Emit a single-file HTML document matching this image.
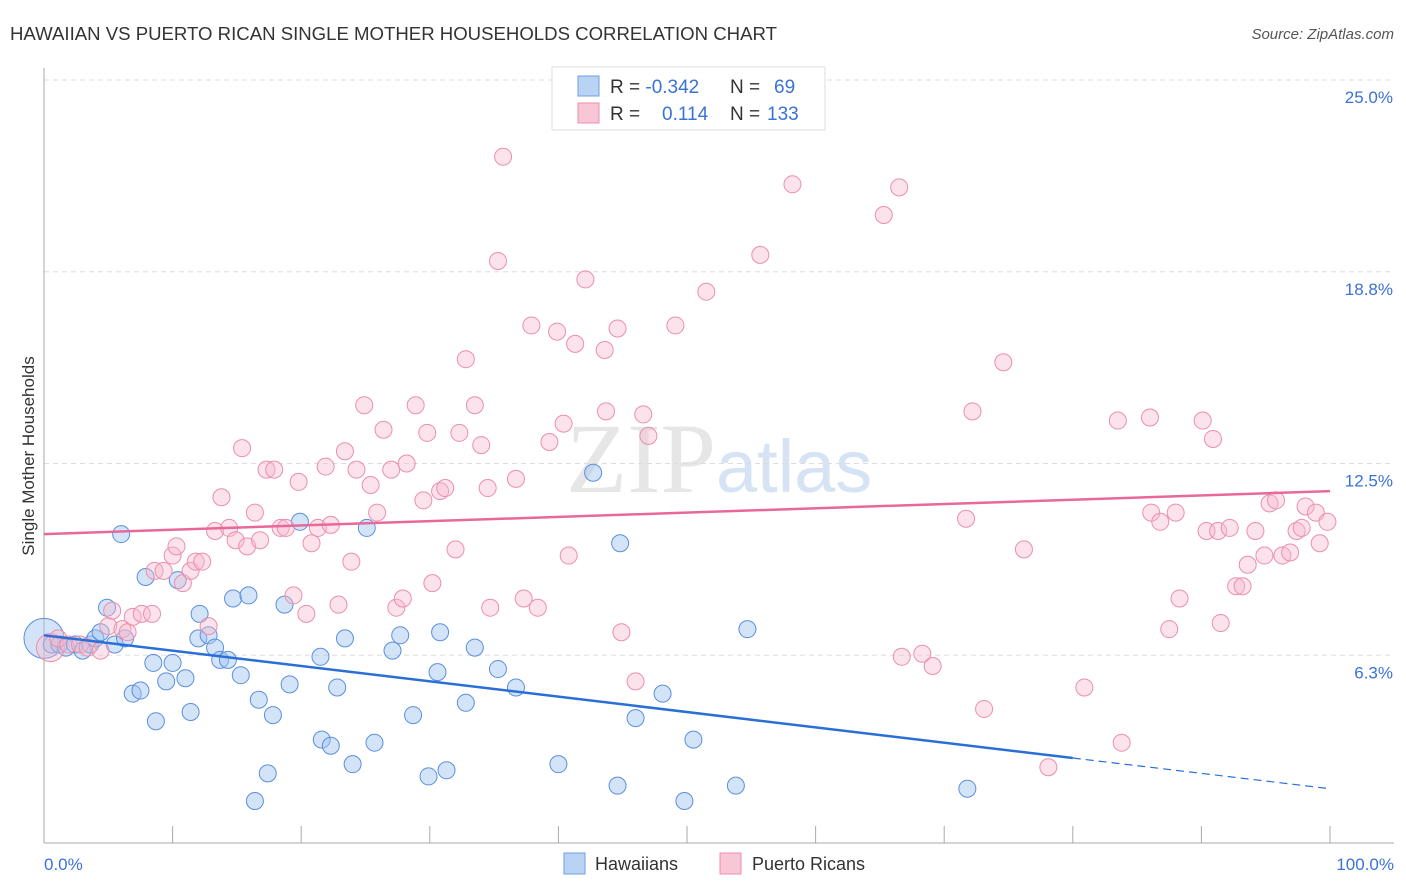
<!DOCTYPE html>
<html><head><meta charset="utf-8"><style>
body{margin:0;background:#fff;font-family:"Liberation Sans",sans-serif}
svg{display:block}
</style></head><body>
<svg id="chart" width="1406" height="892" xmlns="http://www.w3.org/2000/svg" font-family="Liberation Sans, sans-serif">
<text x="10" y="40" font-size="18.6" fill="#333">HAWAIIAN VS PUERTO RICAN SINGLE MOTHER HOUSEHOLDS CORRELATION CHART</text>
<text x="1394" y="39" font-size="15" fill="#555" text-anchor="end" font-style="italic">Source: ZipAtlas.com</text>
<text x="716" y="492" font-size="100" fill="#e6e6e6" text-anchor="end" font-family="Liberation Serif, serif">ZIP</text>
<text x="716" y="492" font-size="74" fill="#d5e3f5">atlas</text>
<text transform="translate(34,456) rotate(-90)" font-size="17" fill="#333" text-anchor="middle">Single Mother Households</text>
<g id="grid"></g><g id="axes"></g><g id="pts"></g><g id="trend"></g>
<g>
<rect x="552" y="67" width="273" height="63" fill="#fff" stroke="#ddd"/>
<rect x="578" y="76" width="21" height="20" fill="#b9d3f5" stroke="#6f9fe0"/>
<rect x="578" y="103" width="21" height="20" fill="#f9c6d5" stroke="#ec8fab"/>
<text x="610" y="93" font-size="19" fill="#333">R = <tspan fill="#3a72d8">-0.342</tspan><tspan x="730">N = </tspan><tspan x="774" fill="#3a72d8">69</tspan></text>
<text x="610" y="120" font-size="19" fill="#333">R = <tspan x="662" fill="#3a72d8">0.114</tspan><tspan x="730">N = </tspan><tspan x="767" fill="#3a72d8">133</tspan></text>
</g>
<g>
<rect x="564" y="853" width="21" height="21" fill="#b9d3f5" stroke="#6f9fe0"/>
<text x="595" y="870" font-size="18" fill="#333">Hawaiians</text>
<rect x="720" y="853" width="21" height="21" fill="#f9c6d5" stroke="#ec8fab"/>
<text x="752" y="870" font-size="18" fill="#333">Puerto Ricans</text>
</g>
</svg>
<script>
const blueX=[0,0.6,1.2,1.7,2.4,3.0,3.6,4.0,4.4,4.9,5.5,6.3,6.0,7.9,8.5,6.9,7.5,8.7,9.5,10.0,10.4,11.0,11.4,12.1,12.0,12.8,13.3,13.7,14.3,14.7,15.3,15.9,16.4,16.7,17.4,17.8,18.7,19.1,19.9,21.5,21.6,22.3,22.8,23.4,24.0,25.1,25.7,27.1,27.7,28.7,29.9,30.6,30.8,31.3,32.8,33.5,35.3,36.7,40.0,42.7,44.6,44.8,46.0,48.1,49.8,50.5,53.8,54.7,71.8];
const blueY=[6.8,6.6,6.6,6.5,6.6,6.4,6.6,6.8,7.0,7.8,6.6,6.8,10.2,8.8,6.0,5.0,5.1,4.1,5.4,6.0,8.7,5.5,4.4,7.6,6.8,6.9,6.5,6.1,6.1,8.1,5.6,8.2,1.5,4.8,2.4,4.3,7.9,5.3,10.6,6.2,3.5,3.3,5.2,6.8,2.7,10.4,3.4,6.4,6.9,4.3,2.3,5.7,7.0,2.5,4.7,6.5,5.8,5.2,2.7,12.2,2.0,9.9,4.2,5.0,1.5,3.5,2.0,7.1,1.9];
const pinkX=[0.5,1.1,1.9,2.8,3.4,4.4,5.0,5.3,6.1,6.5,6.9,7.6,8.4,8.6,9.3,10.0,10.3,10.8,11.4,11.8,12.3,12.8,13.3,13.8,14.4,14.9,15.4,15.8,16.4,16.8,17.3,17.9,18.4,18.8,19.4,19.8,20.4,20.8,21.3,21.9,22.3,22.9,23.4,23.9,24.3,24.9,25.4,25.9,26.4,27.0,27.4,27.9,28.2,28.9,29.5,29.8,30.2,30.8,31.2,32.0,32.3,32.8,33.5,34.0,34.5,34.7,35.3,35.7,36.7,37.3,37.9,38.4,39.3,39.9,40.4,40.8,41.3,42.1,43.6,43.7,44.6,44.9,46.0,46.6,47.0,49.1,51.5,55.7,58.2,65.3,66.5,66.7,68.3,69.1,71.7,72.2,73.1,74.6,76.2,78.1,80.9,83.5,83.8,86.1,86.0,86.8,87.5,88.0,88.3,90.1,90.4,90.9,91.5,91.3,92.2,92.7,93.2,93.6,94.2,94.9,95.3,95.8,96.3,96.9,97.4,97.8,98.1,98.9,99.2,99.8];
const pinkY=[6.5,6.8,6.6,6.6,6.5,6.4,7.2,7.7,7.1,7.0,7.5,7.6,7.6,9.0,9.0,9.5,9.8,8.6,9.0,9.3,9.3,7.2,10.3,11.4,10.4,10.0,13.0,9.8,10.9,10.0,12.3,12.3,10.4,10.4,8.2,11.9,7.6,9.9,10.4,12.4,10.5,7.9,12.9,9.3,12.3,14.4,11.8,10.9,13.6,12.3,7.8,8.1,12.5,14.4,11.3,13.5,8.6,11.6,11.7,9.7,13.5,15.9,14.4,13.1,11.7,7.8,19.1,22.5,12.0,8.1,17.0,7.8,13.2,16.8,13.8,9.5,16.4,18.5,16.2,14.2,16.9,7.0,5.4,14.1,13.4,17.0,18.1,19.3,21.6,20.6,21.5,6.2,6.3,5.9,10.7,14.2,4.5,15.8,9.7,2.6,5.2,13.9,3.4,10.9,14.0,10.6,7.1,10.9,8.1,13.9,10.3,13.3,7.3,10.3,10.4,8.5,8.5,9.2,10.3,9.5,11.2,11.3,9.5,9.6,10.3,10.4,11.1,10.9,9.9,10.6];
const yTicks=[6.25,12.5,18.75,25.0];
const yTickLabels=["6.3%","12.5%","18.8%","25.0%"];
const xTicks=[0,10,20,30,40,50,60,70,80,90,100];
const blueTrend=[6.9,1.9], blueSolidEnd=80;
const pinkTrend=[10.2,11.6];
const X0=44,X1=1330,YT=80,Y0=847,AXY=843;
const xs=v=>X0+(X1-X0)*v/100;
const ys=v=>Y0-(Y0-YT)*v/25;
const NS="http://www.w3.org/2000/svg";
function mk(tag,attrs,parent){const e=document.createElementNS(NS,tag);for(const k in attrs)e.setAttribute(k,attrs[k]);document.getElementById(parent).appendChild(e);return e;}
yTicks.forEach((t,i)=>{
 const l=mk('line',{x1:X0,x2:1394,y1:ys(t),y2:ys(t),stroke:'#ddd','stroke-dasharray':'5,4'},'grid');
 
 
 const tx=mk('text',{x:1393,y:ys(t)+23,'font-size':17,fill:'#3a72d8','text-anchor':'end'},'grid');
 tx.textContent=yTickLabels[i];
 
 
});
let a=mk('line',{x1:X0,x2:X0,y1:68,y2:AXY,stroke:'#aaa'},'axes');


a=mk('line',{x1:X0,x2:1394,y1:AXY,y2:AXY,stroke:'#aaa'},'axes');


xTicks.forEach(t=>{const l=mk('line',{x1:xs(t),x2:xs(t),y1:826,y2:AXY,stroke:'#aaa'},'axes');
 
 });
let t0=mk('text',{x:44,y:870,'font-size':17,fill:'#3a72d8'},'axes');t0.textContent='0.0%';


let t1=mk('text',{x:1394,y:870,'font-size':17,fill:'#3a72d8','text-anchor':'end'},'axes');t1.textContent='100.0%';


blueX.forEach((x,i)=>{const c=mk('circle',{cx:xs(x),cy:ys(blueY[i]),r:i==0?20:8.5,fill:'rgba(160,196,240,0.45)',stroke:'#5b8fdc','stroke-width':1},'pts');
 
 });
pinkX.forEach((x,i)=>{const c=mk('circle',{cx:xs(x),cy:ys(pinkY[i]),r:i==0?14:8.5,fill:'rgba(248,184,204,0.4)',stroke:'#eb8fab','stroke-width':1},'pts');
 
 });
const bAt=x=>blueTrend[0]+(blueTrend[1]-blueTrend[0])*x/100;
let l=mk('line',{x1:xs(0),y1:ys(bAt(0)),x2:xs(blueSolidEnd),y2:ys(bAt(blueSolidEnd)),stroke:'#2a6fd6','stroke-width':2.5},'trend');


l=mk('line',{x1:xs(blueSolidEnd),y1:ys(bAt(blueSolidEnd)),x2:xs(100),y2:ys(bAt(100)),stroke:'#2a6fd6','stroke-width':1.2,'stroke-dasharray':'8,5'},'trend');


l=mk('line',{x1:xs(0),y1:ys(pinkTrend[0]),x2:xs(100),y2:ys(pinkTrend[1]),stroke:'#e8689a','stroke-width':2.5},'trend');


</script>
</body></html>
